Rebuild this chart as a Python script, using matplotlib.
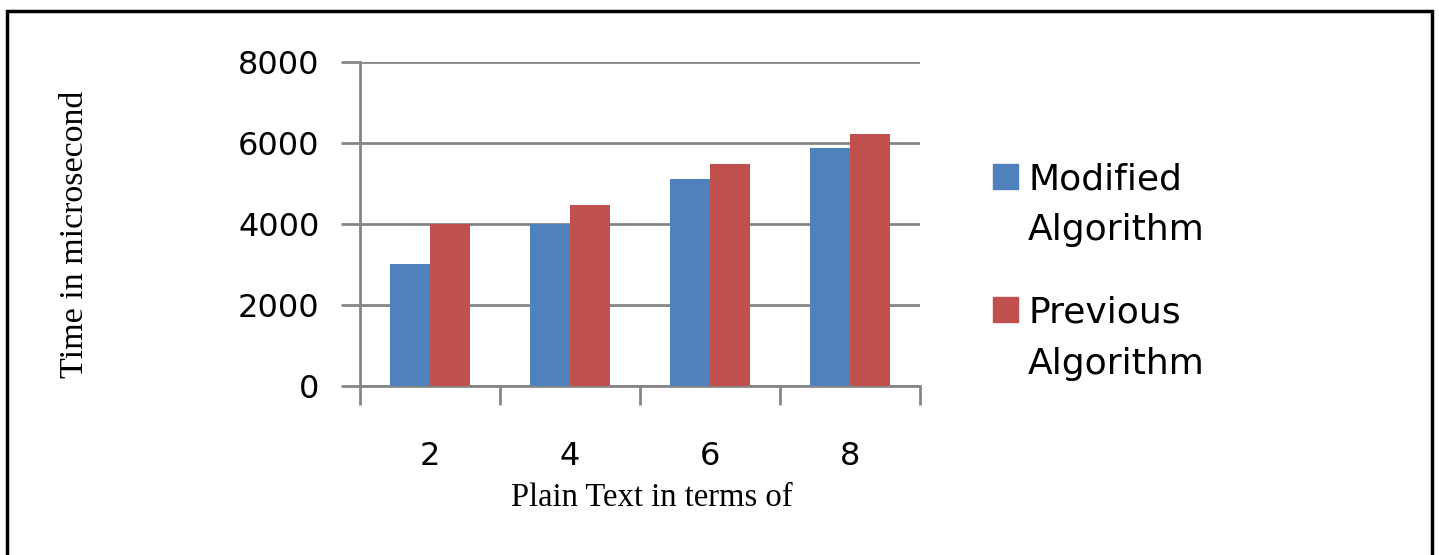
import matplotlib.pyplot as plt
import numpy as np
from matplotlib.patches import Rectangle
from matplotlib.legend_handler import HandlerPatch

# dados
categorias = ['2', '4', '6', '8']
modificado = [3000, 4000, 5120, 5870]
anterior = [4000, 4470, 5470, 6220]
nomes = ['Modified\nAlgorithm', 'Previous\nAlgorithm']
cores = ['#4F81BD', '#C0504D']
ticks_y = [0, 2000, 4000, 6000, 8000]

W, H = 1439, 555
fig = plt.figure(figsize=(W / 100, H / 100), dpi=100)
ax = fig.add_axes([360 / W, 1 - 385.7 / H, 560 / W, (385.7 - 62) / H])

x = np.arange(len(categorias))
larg = 1 / 3.5
ax.bar(x - larg / 2, modificado, larg, color=cores[0], zorder=3)
ax.bar(x + larg / 2, anterior, larg, color=cores[1], zorder=3)

cinza = '#868686'
ax.set_xlim(-0.5, len(categorias) - 0.5)
ax.set_ylim(0, 8000)
ax.set_yticks(ticks_y)
ax.set_yticklabels([str(v) for v in ticks_y], fontfamily='DejaVu Sans', fontsize=23)
ax.yaxis.grid(True, color=cinza, linewidth=2, zorder=0)
ax.set_axisbelow(True)

# ticks do eixo x nas divisas entre categorias
ax.set_xticks(np.arange(-0.5, len(categorias), 1))
ax.set_xticklabels([])
ax.set_xticks(x, minor=True)
ax.set_xticklabels(categorias, minor=True, fontfamily='DejaVu Sans', fontsize=23)
ax.tick_params(axis='x', which='minor', length=0, pad=40)
ax.tick_params(axis='x', which='major', length=14, width=2, color=cinza)
ax.tick_params(axis='y', length=14, width=2, color=cinza, pad=15)

for lado in ['top', 'right']:
    ax.spines[lado].set_visible(False)
ax.spines['left'].set_color(cinza)
ax.spines['left'].set_linewidth(2)
ax.spines['bottom'].set_color(cinza)
ax.spines['bottom'].set_linewidth(2)

fig.text(652 / W, 1 - 498 / H, 'Plain Text in terms of', ha='center', va='center',
         fontfamily='Liberation Serif', fontsize=23.5)
fig.text(75 / W, 1 - 234 / H, 'Time in microsecond', ha='center', va='center',
         rotation=90, fontfamily='Liberation Serif', fontsize=24.5)


# quadrado da legenda alinhado com a primeira linha do texto
def quadrado(legend, orig_handle, xdescent, ydescent, width, height, fontsize):
    return Rectangle((-xdescent, -ydescent + 21), width, height)


proxies = [Rectangle((0, 0), 1, 1, color=c) for c in cores]
leg = fig.legend(handles=proxies, labels=nomes, loc='upper left',
                 bbox_to_anchor=(993 / W, 1 - 162 / H), frameon=False, borderpad=0,
                 borderaxespad=0, prop={'family': 'DejaVu Sans', 'size': 26},
                 handlelength=0.69, handleheight=0.69, handletextpad=0.28,
                 labelspacing=1.35,
                 handler_map={Rectangle: HandlerPatch(patch_func=quadrado)})
for t in leg.get_texts():
    t.set_linespacing(1.63)

# moldura preta em volta da figura
fig.patches.append(Rectangle((7 / W, -0.05), 1425 / W, 1.05 - 11 / H, transform=fig.transFigure,
                             fill=False, edgecolor='black', linewidth=2.5))

fig.savefig('out.png', dpi=100)
